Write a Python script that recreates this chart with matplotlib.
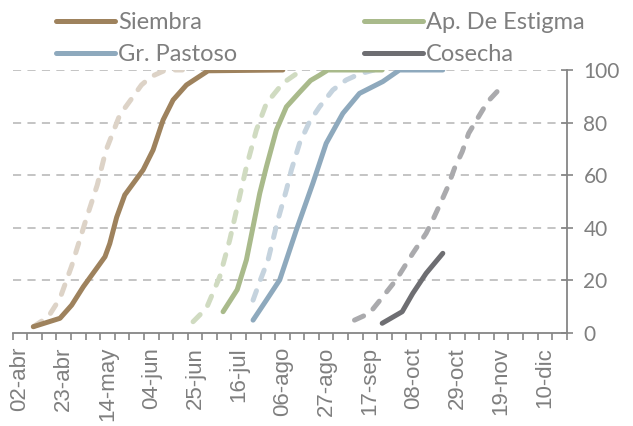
import numpy as np
import matplotlib
matplotlib.use("Agg")
import matplotlib.pyplot as plt
from matplotlib.ticker import FixedLocator

# --- data: days counted from 02-abr, cumulative % ---

siembra_d = [6.4, 19.2, 24.8, 30.4, 36.8, 40.8, 43.1, 46.4, 50.3, 59.1, 63.9, 68.7, 73.5, 79.9, 84.7, 90.3, 126.2]
siembra_v = [2.4, 5.6, 10.6, 17.6, 24.6, 29.0, 34.0, 44.0, 52.5, 62.0, 69.6, 81.0, 88.6, 94.3, 96.8, 99.7, 100]

siembra_ref_d = [6.4, 13.6, 19.2, 24.8, 31.2, 37.1, 41.2, 47.9, 53.5, 58.3, 63.0, 70.0, 78.0]
siembra_ref_v = [2.4, 6.2, 13.2, 25.5, 41.9, 56.3, 69.3, 82.9, 89.0, 94.3, 97.5, 100, 100]

estigma_d = [97.5, 104.3, 108.7, 111.9, 115.1, 118.3, 123.1, 127.9, 134.2, 139.5, 143.8, 147.8, 173.9]
estigma_v = [8.1, 16.5, 27.8, 40.4, 53.1, 63.2, 77.2, 86.0, 91.5, 96.0, 98.0, 100, 100]

estigma_ref_d = [83.1, 89.5, 95.9, 100.7, 104.7, 108.7, 113.5, 118.3, 126.2, 134.2]
estigma_ref_v = [4.3, 9.4, 21.4, 35.4, 49.3, 63.2, 77.2, 87.3, 95.0, 99.4]

pastoso_d = [111.9, 118.3, 124.7, 132.7, 140.6, 147.0, 155.0, 163.0, 174.2, 182.2, 203.0]
pastoso_v = [4.9, 12.5, 20.2, 39.2, 56.9, 72.1, 83.5, 91.1, 95.6, 100, 100]

pastoso_ref_d = [111.9, 115.1, 119.1, 123.8, 127.9, 130.3, 134.2, 139.0, 143.8, 150.2, 156.6, 163.0, 170.0]
pastoso_ref_v = [12.5, 19.5, 27.8, 43.0, 54.4, 62.0, 72.1, 80.3, 86.0, 92.4, 96.2, 98.5, 100]

cosecha_d = [173.9, 183.5, 188.6, 195.0, 203.0]
cosecha_v = [3.7, 8.1, 15.1, 22.7, 30.3]

cosecha_ref_d = [160.6, 167.8, 174.2, 180.6, 188.6, 195.0, 198.2, 202.2, 205.4, 208.6, 212.3, 215.4, 219.7, 224.5, 230.5]
cosecha_ref_v = [4.9, 7.5, 13.8, 20.2, 30.3, 37.9, 43.0, 49.9, 55.6, 62.6, 68.9, 75.9, 81.6, 87.9, 93.0]

date_labels = ["02-abr", "23-abr", "14-may", "04-jun", "25-jun", "16-jul", "06-ago",
               "27-ago", "17-sep", "08-oct", "29-oct", "19-nov", "10-dic"]

# --- style ---

TXT = "#7F7F7F"
LW = 3.6
DASH = (2.0, 2.4)

SERIES = [
    # (label, solid, reference, solid color, reference color)
    ("Siembra", (siembra_d, siembra_v), (siembra_ref_d, siembra_ref_v), "#9E825D", "#DDD3C7"),
    ("Gr. Pastoso", (pastoso_d, pastoso_v), (pastoso_ref_d, pastoso_ref_v), "#8EA9BD", "#C5D3DE"),
    ("Ap. De Estigma", (estigma_d, estigma_v), (estigma_ref_d, estigma_ref_v), "#A9BA8B", "#D0DBC1"),
    ("Cosecha", (cosecha_d, cosecha_v), (cosecha_ref_d, cosecha_ref_v), "#6E6E72", "#AAAAAD"),
]

fig = plt.figure(figsize=(6.33, 4.26), dpi=100)
ax = fig.add_axes([0.0201, 0.2183, 0.8752, 0.6174])

# reference (dashed) curves underneath
for label, _, ref, _, c_ref in SERIES:
    ax.plot(ref[0], ref[1], color=c_ref, linewidth=LW, linestyle=(0, DASH),
            dash_capstyle="round", solid_capstyle="round", zorder=2)

handles = []
for label, sol, _, c_sol, _ in SERIES:
    h, = ax.plot(sol[0], sol[1], color=c_sol, linewidth=LW,
                 solid_capstyle="round", solid_joinstyle="round",
                 label=label, zorder=3)
    handles.append(h)

# axes
ax.set_xlim(-3.5, 262.5)
ax.set_ylim(0, 100)

ax.spines["left"].set_visible(False)
ax.spines["top"].set_visible(False)
ax.spines["right"].set_color("#868686")
ax.spines["bottom"].set_color("#868686")
ax.spines["right"].set_linewidth(1.3)
ax.spines["bottom"].set_linewidth(1.3)

ax.yaxis.tick_right()
ax.set_yticks([0, 20, 40, 60, 80, 100])
ax.tick_params(axis="y", direction="inout", length=8, width=1.2, color="#868686",
               labelcolor=TXT, labelsize=15, pad=8)
for t in ax.get_yticklabels():
    t.set_family("Lato")

ax.set_xticks(np.arange(0, 253, 21))
ax.set_xticklabels(date_labels, rotation=90, family="Liberation Sans",
                   fontsize=16, color=TXT)
ax.tick_params(axis="x", which="major", length=0, pad=10)
ax.xaxis.set_minor_locator(FixedLocator(np.arange(-3.5, 263, 7)))
ax.tick_params(axis="x", which="minor", direction="out", length=5, width=1.2,
               color="#868686")

ax.grid(False)
for yv in [20, 40, 60, 80, 100]:
    ax.axhline(yv, color="#BFBFBF", linewidth=1.3, linestyle=(0, (4.5, 3.5)), zorder=1)

leg = fig.legend(handles=handles, ncol=2, loc="upper left",
                 bbox_to_anchor=(0.088, 0.971), frameon=False,
                 prop={"family": "Lato", "size": 17},
                 handlelength=2.5, handletextpad=0.15, columnspacing=5.35,
                 labelspacing=0.47, borderpad=0, borderaxespad=0)
for t in leg.get_texts():
    t.set_color(TXT)

fig.savefig("out.png", dpi=100)
